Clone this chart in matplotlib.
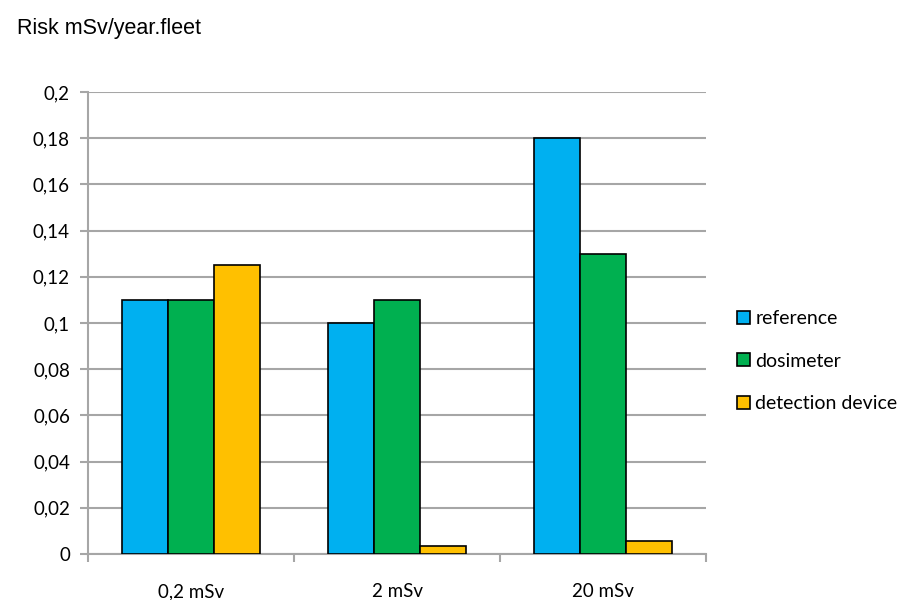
import numpy as np
import matplotlib
matplotlib.use("Agg")
import matplotlib.pyplot as plt
import matplotlib.patches as mpatches

categories = ["0,2 mSv", "2 mSv", "20 mSv"]
series_names = ["reference", "dosimeter", "detection device"]
reference = [0.11, 0.10, 0.18]
dosimeter = [0.11, 0.11, 0.13]
detection = [0.125, 0.0035, 0.0055]
y_ticks = [0, 0.02, 0.04, 0.06, 0.08, 0.1, 0.12, 0.14, 0.16, 0.18, 0.2]
y_tick_labels = ["0", "0,02", "0,04", "0,06", "0,08", "0,1", "0,12", "0,14", "0,16", "0,18", "0,2"]

COLORS = ["#00b0f0", "#00b050", "#ffc000"]
GRID = "#a6a6a6"
TICK_FONT = "Lato"

fig = plt.figure(figsize=(9.02, 6.0), dpi=100)
ax = fig.add_axes([0.0976, 0.0767, 0.6851, 0.77])

x = np.arange(len(categories))
width = 1 / 4.5
for i, (vals, col, name) in enumerate(zip([reference, dosimeter, detection], COLORS, series_names)):
    ax.bar(x + (i - 1) * width, vals, width=width, color=col, edgecolor="black",
           linewidth=1.2, label=name, zorder=3)

ax.set_xlim(-0.5, len(categories) - 0.5)
ax.set_ylim(0, 0.2)
ax.set_yticks(y_ticks)
ax.set_yticklabels(y_tick_labels, family=TICK_FONT, fontsize=13.5)
ax.set_xticks(x)
ax.set_xticklabels(categories, family=TICK_FONT, fontsize=13.5)
ax.set_xticks(np.arange(len(categories) + 1) - 0.5, minor=True)

ax.grid(axis="y", color=GRID, linewidth=1.5, zorder=0)
for side in ["top", "right"]:
    ax.spines[side].set_visible(False)
for side in ["left", "bottom"]:
    ax.spines[side].set_color(GRID)
    ax.spines[side].set_linewidth(1.5)
ax.tick_params(axis="y", length=6, width=1.5, color=GRID, pad=7)
ax.tick_params(axis="x", which="major", length=0, pad=21)
ax.tick_params(axis="x", which="minor", length=6, width=1.5, color=GRID)

fig.text(0.019, 0.943, "Risk mSv/year.fleet", family="Liberation Sans", fontsize=15.5)

handles = [mpatches.Patch(facecolor=c, edgecolor="black", linewidth=1.2, label=n)
           for c, n in zip(COLORS, series_names)]
fig.legend(handles=handles, loc="center left", bbox_to_anchor=(0.817, 0.398),
           frameon=False, prop={"family": TICK_FONT, "size": 14},
           borderpad=0, borderaxespad=0,
           handlelength=0.65, handleheight=0.65, handletextpad=0.3, labelspacing=1.3)

fig.savefig("out.png", dpi=100)
